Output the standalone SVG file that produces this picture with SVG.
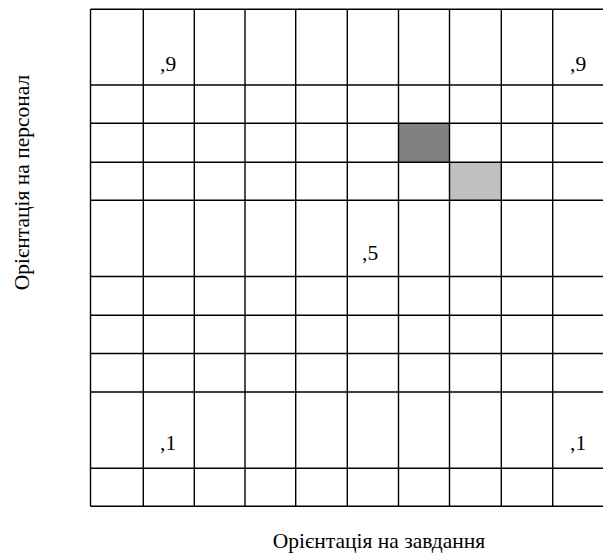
<svg xmlns="http://www.w3.org/2000/svg" width="603" height="554" viewBox="0 0 603 554">
<style>
.g line{stroke:#000;stroke-width:1.4}
.t{font-family:'Liberation Serif','Times New Roman',serif;font-size:21.5px;fill:#000}
</style>
<rect width="603" height="554" fill="#fff"/>
<g id="cells">
<rect x="398.5" y="123.3" width="51" height="39" fill="#808080"/>
<rect x="449.5" y="162.3" width="51.8" height="38" fill="#c0c0c0"/>
</g>
<g id="grid" class="g">
<line x1="90.5" y1="9.3" x2="603" y2="9.3"/>
<line x1="90.5" y1="85" x2="603" y2="85"/>
<line x1="90.5" y1="123.3" x2="603" y2="123.3"/>
<line x1="90.5" y1="162.3" x2="603" y2="162.3"/>
<line x1="90.5" y1="200.3" x2="603" y2="200.3"/>
<line x1="90.5" y1="276.5" x2="603" y2="276.5"/>
<line x1="90.5" y1="315.3" x2="603" y2="315.3"/>
<line x1="90.5" y1="353.5" x2="603" y2="353.5"/>
<line x1="90.5" y1="392" x2="603" y2="392"/>
<line x1="90.5" y1="468.3" x2="603" y2="468.3"/>
<line x1="90.5" y1="506.3" x2="603" y2="506.3"/>
<line x1="90.5" y1="9.3" x2="90.5" y2="506.3"/>
<line x1="143.3" y1="9.3" x2="143.3" y2="506.3"/>
<line x1="194.3" y1="9.3" x2="194.3" y2="506.3"/>
<line x1="245" y1="9.3" x2="245" y2="506.3"/>
<line x1="295.7" y1="9.3" x2="295.7" y2="506.3"/>
<line x1="347.3" y1="9.3" x2="347.3" y2="506.3"/>
<line x1="398.5" y1="9.3" x2="398.5" y2="506.3"/>
<line x1="449.5" y1="9.3" x2="449.5" y2="506.3"/>
<line x1="501.3" y1="9.3" x2="501.3" y2="506.3"/>
<line x1="552.7" y1="9.3" x2="552.7" y2="506.3"/>
</g>
<g id="values" class="t">
<text x="160" y="71" style="font-family:'Liberation Serif',serif">,9</text>
<text x="570" y="71" style="font-family:'Liberation Serif',serif">,9</text>
<text x="362" y="260" style="font-family:'Liberation Serif',serif">,5</text>
<text x="160" y="450" style="font-family:'Liberation Serif',serif">,1</text>
<text x="570" y="450" style="font-family:'Liberation Serif',serif">,1</text>
</g>
<g id="labels" class="t">
<text x="379" y="548" text-anchor="middle" style="font-family:'Liberation Serif',serif">Орієнтація на завдання</text>
<text transform="translate(28.5,182.5) rotate(-90)" text-anchor="middle" style="font-family:'Liberation Serif',serif">Орієнтація на персонал</text>
</g>
</svg>
